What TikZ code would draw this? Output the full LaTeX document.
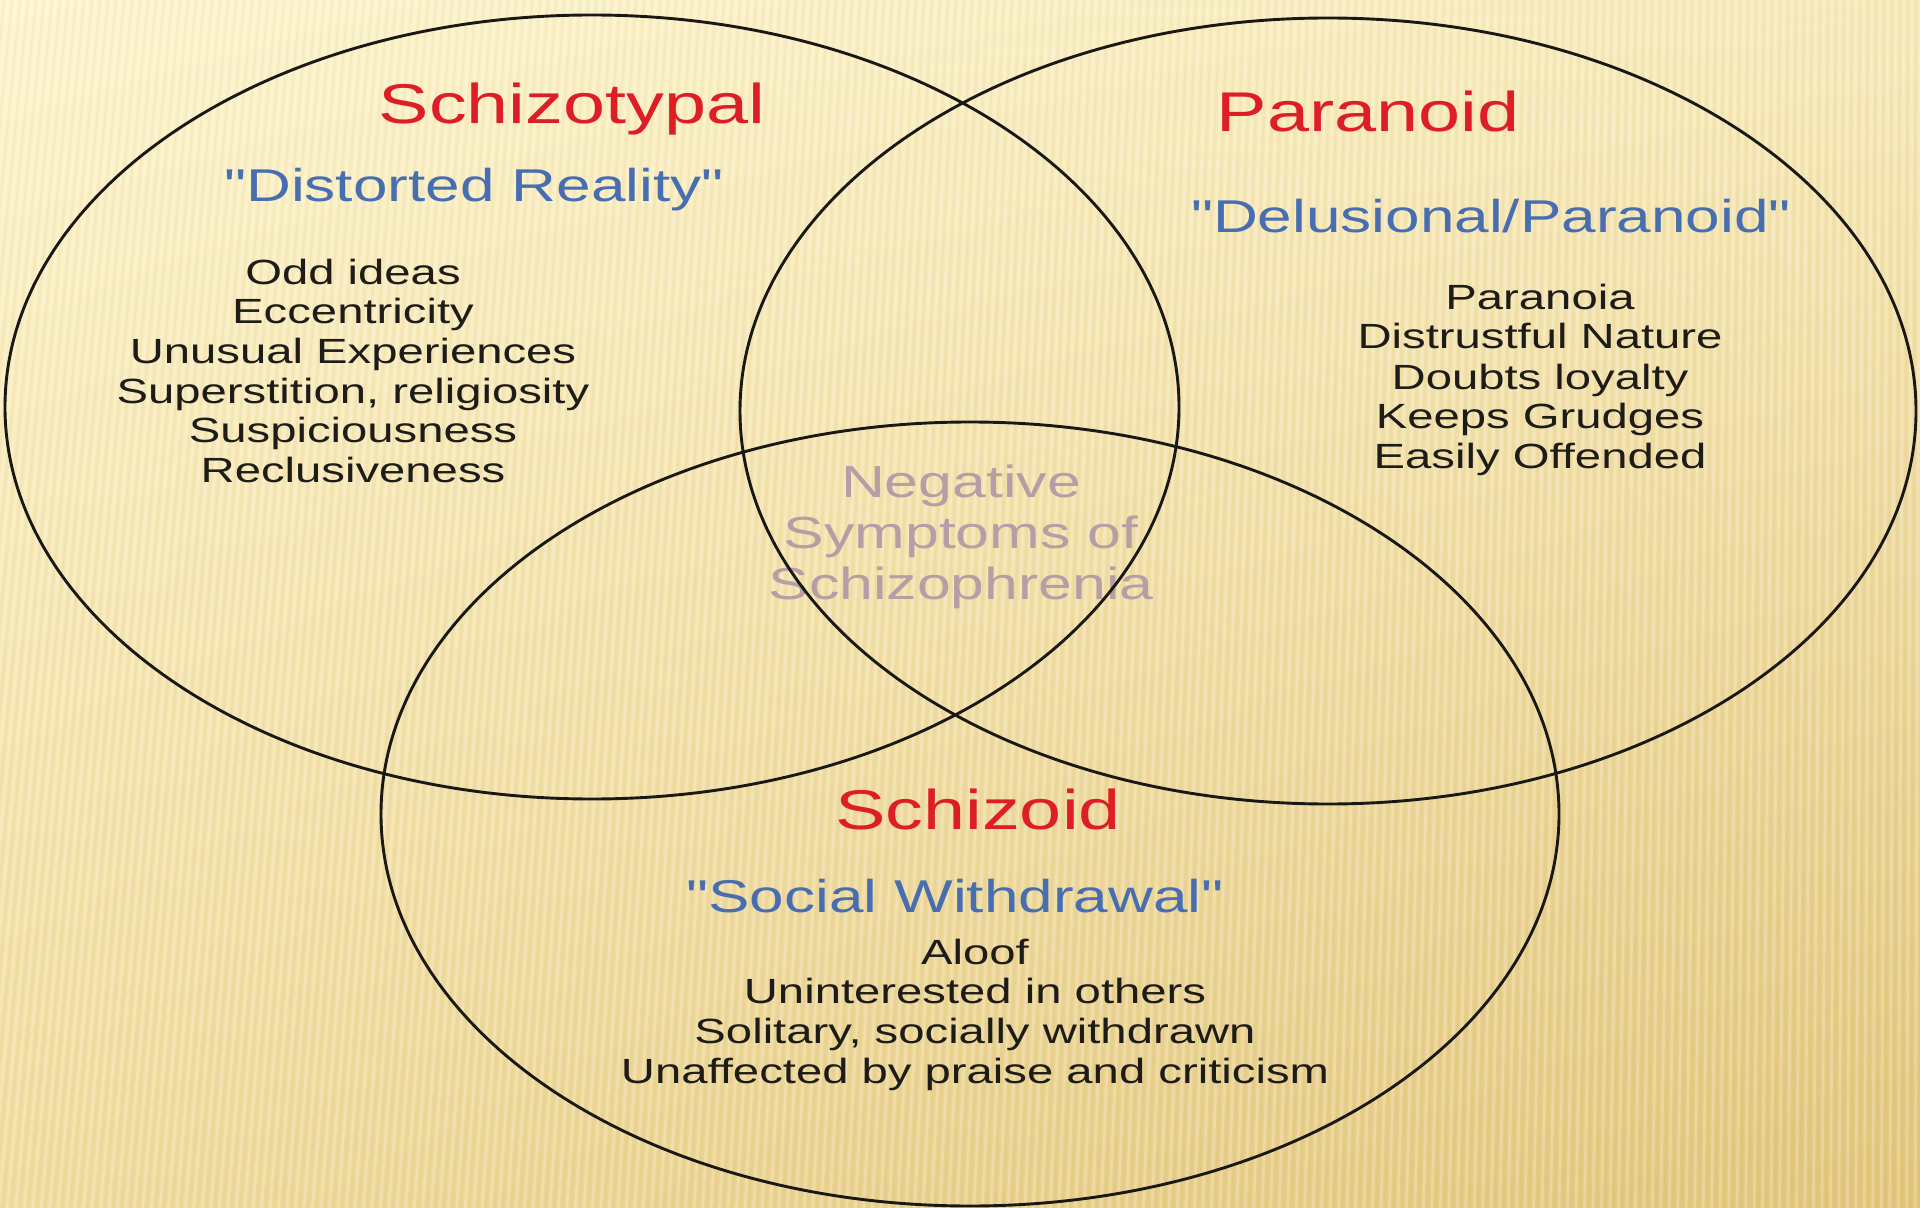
\documentclass[tikz,border=0pt]{standalone}
\usepackage{fontspec}
\setmainfont{Liberation Sans}[Ligatures=TeXOff]
\usetikzlibrary{shapes.geometric,shadings}
\definecolor{ttl}{RGB}{222,30,38}
\definecolor{sub}{RGB}{72,110,178}
\definecolor{txt}{RGB}{30,28,24}
\definecolor{neg}{RGB}{182,158,166}
\definecolor{bgA}{RGB}{253,245,205}
\definecolor{bgB}{RGB}{247,234,185}
\definecolor{bgC}{RGB}{240,220,158}
\definecolor{bgD}{RGB}{226,197,122}
\definecolor{edge}{RGB}{25,24,20}
\newcommand{\hs}[1]{\scalebox{1.35}[1]{#1}}
\tikzset{
  ring/.style={ellipse, draw=edge, line width=1.45pt, inner sep=0pt},
  ttlbox/.style={font=\fontsize{28}{32}\selectfont, text=ttl, anchor=base, inner sep=0pt},
  subbox/.style={font=\fontsize{23}{27}\selectfont, text=sub, anchor=base, inner sep=0pt},
  itembox/.style={font=\fontsize{17.5}{20}\selectfont, text=txt, anchor=base, inner sep=0pt},
  negbox/.style={font=\fontsize{22.5}{26}\selectfont, text=neg, anchor=base, inner sep=0pt},
}
\begin{document}
\begin{tikzpicture}[x=0.5pt,y=-0.5pt]
\useasboundingbox (0,0) rectangle (1920,1208);
\shade[upper left=bgA, upper right=bgB, lower left=bgC, lower right=bgD] (0,0) rectangle (1920,1208);
\begin{scope}
\clip (0,0) rectangle (1920,1208);
\foreach \i in {0,...,260}{
  \pgfmathsetmacro\xa{\i*8}
  \draw[white, opacity=.22, line width=1.4pt] (\xa,0) -- ({\xa-120+0.06*\xa},1208);
  \draw[brown, opacity=.05, line width=1.2pt] (\xa+4,0) -- ({\xa+4-120+0.06*\xa},1208);
}
\end{scope}

% Schizotypal
\node[ttlbox] (t1) at (572,124) {\hs{Schizotypal}};
\node[subbox] (s1) at (474,202) {\hs{"Distorted Reality"}};
\node[itembox] (a1) at (353,285) {\hs{Odd ideas}};
\node[itembox] (a2) at (353,324) {\hs{Eccentricity}};
\node[itembox] (a3) at (353,364) {\hs{Unusual Experiences}};
\node[itembox] (a4) at (353,403) {\hs{Superstition, religiosity}};
\node[itembox] (a5) at (353,442) {\hs{Suspiciousness}};
\node[itembox] (a6) at (353,482) {\hs{Reclusiveness}};

% Paranoid
\node[ttlbox] (t2) at (1368,132) {\hs{Paranoid}};
\node[subbox] (s2) at (1491,233) {\hs{"Delusional/Paranoid"}};
\node[itembox] (b1) at (1540,310) {\hs{Paranoia}};
\node[itembox] (b2) at (1540,349) {\hs{Distrustful Nature}};
\node[itembox] (b3) at (1540,389) {\hs{Doubts loyalty}};
\node[itembox] (b4) at (1540,428) {\hs{Keeps Grudges}};
\node[itembox] (b5) at (1540,468) {\hs{Easily Offended}};

% Schizoid
\node[ttlbox] (t3) at (978,829) {\hs{Schizoid}};
\node[subbox] (s3) at (955,912) {\hs{"Social Withdrawal"}};
\node[itembox] (c1) at (975,964) {\hs{Aloof}};
\node[itembox] (c2) at (975,1003) {\hs{Uninterested in others}};
\node[itembox] (c3) at (975,1043) {\hs{Solitary, socially withdrawn}};
\node[itembox] (c4) at (975,1083) {\hs{Unaffected by praise and criticism}};

% Centre
\node[negbox] (n1) at (961,497) {\hs{Negative}};
\node[negbox] (n2) at (961,548) {\hs{Symptoms of}};
\node[negbox] (n3) at (961,599) {\hs{Schizophrenia}};

% Rings
\node[ring, minimum width=587pt, minimum height=392pt] (left) at (592,407) {};
\node[ring, minimum width=588pt, minimum height=393pt] (right) at (1328,411) {};
\node[ring, minimum width=589pt, minimum height=392pt] (bottom) at (970,814) {};
\end{tikzpicture}
\end{document}
